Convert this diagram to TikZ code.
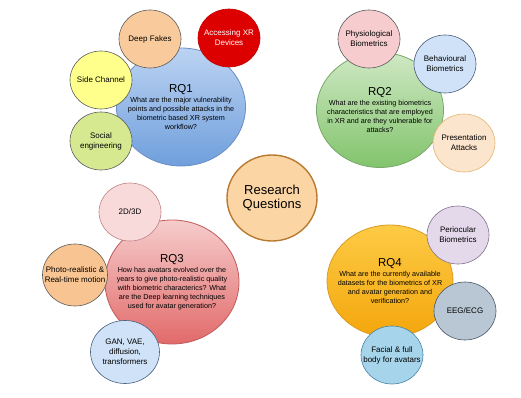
\documentclass[tikz,border=0pt]{standalone}
\usepackage{fontspec}
\setmainfont{Liberation Sans}
\usetikzlibrary{shapes.geometric}

\definecolor{rqoneTop}{HTML}{BCD3F2}
\definecolor{rqoneBot}{HTML}{6F9FDC}
\definecolor{rqoneLine}{HTML}{6A8FC4}
\definecolor{rqtwoTop}{HTML}{CFE8C4}
\definecolor{rqtwoBot}{HTML}{82C46C}
\definecolor{rqtwoLine}{HTML}{7AA86A}
\definecolor{rqthreeTop}{HTML}{F6CCCC}
\definecolor{rqthreeBot}{HTML}{E26A6A}
\definecolor{rqthreeLine}{HTML}{C05A5A}
\definecolor{rqfourTop}{HTML}{FDCB45}
\definecolor{rqfourBot}{HTML}{F4A60C}
\definecolor{rqfourLine}{HTML}{D99A20}
\definecolor{hubFill}{HTML}{FCD5A5}
\definecolor{hubLine}{HTML}{B87A30}

\tikzset{
  rqbig/.style={ellipse, inner sep=0pt, line width=0.8pt},
  rqtext/.style={font=\fontsize{7.2}{9}\selectfont, align=center, inner sep=0pt},
  tagcirc/.style={ellipse, draw=black!65, line width=0.6pt, inner sep=0pt,
    minimum width=62pt, minimum height=58pt},
  tagtext/.style={font=\fontsize{8}{10}\selectfont, align=center, inner sep=0pt},
}
\newcommand{\rqhead}[1]{{\fontsize{11.5}{13}\selectfont #1}\\[1pt]}

\begin{document}
\begin{tikzpicture}[x=1pt, y=-1pt]
    \useasboundingbox (0,0) rectangle (521,398);
    % Centre: research questions
    \node[ellipse, fill=hubFill, draw=hubLine, line width=1.4pt, inner sep=0pt,
      minimum width=90pt, minimum height=86pt] (hub) at (272,198) {};
    \node[font=\fontsize{13}{14}\selectfont, align=center] (hubtext) at (hub) {Research\\Questions};
    % Four research question circles
    \node[rqbig, top color=rqoneTop, bottom color=rqoneBot, draw=rqoneLine,
      minimum width=129pt, minimum height=118pt] (rq1) at (181,107) {};
    \node[rqtext] (rq1text) at (rq1) {\rqhead{RQ1}What are the major vulnerability\\points and possible attacks in the\\biometric based XR system\\workflow?};
    \node[rqbig, top color=rqtwoTop, bottom color=rqtwoBot, draw=rqtwoLine,
      minimum width=127pt, minimum height=115pt] (rq2) at (380,110) {};
    \node[rqtext] (rq2text) at (rq2) {\rqhead{RQ2}What are the existing biometrics\\characteristics that are employed\\in XR and are they vulnerable for\\attacks?};
    \node[rqbig, top color=rqthreeTop, bottom color=rqthreeBot, draw=rqthreeLine,
      minimum width=134pt, minimum height=124pt] (rq3) at (172,282) {};
    \node[rqtext] (rq3text) at (rq3) {\rqhead{RQ3}How has avatars evolved over the\\years to give photo-realistic quality\\with biometric characterics? What\\are the Deep learning techniques\\used for avatar generation?};
    \node[rqbig, top color=rqfourTop, bottom color=rqfourBot, draw=rqfourLine,
      minimum width=126pt, minimum height=112pt] (rq4) at (390,281) {};
    \node[rqtext] (rq4text) at (rq4) {\rqhead{RQ4}What are the currently available\\datasets for the biometrics of XR\\and avatar generation and\\verification?};
    % RQ1 topics
    \node[tagcirc, fill={rgb,255:red,249;green,203;blue,156}] (deepfakes) at (150,39) {};
    \node[tagtext] at (deepfakes) {Deep Fakes};
    \node[tagcirc, fill={rgb,255:red,221;green,0;blue,0}, draw={rgb,255:red,190;green,0;blue,0}] (xrdevices) at (229,38) {};
    \node[tagtext, text=white] at (xrdevices) {Accessing XR\\Devices};
    \node[tagcirc, fill={rgb,255:red,255;green,255;blue,140}] (sidechannel) at (101,80) {};
    \node[tagtext] at (sidechannel) {Side Channel};
    \node[tagcirc, fill={rgb,255:red,214;green,233;blue,145}] (socialeng) at (101,141) {};
    \node[tagtext] at (socialeng) {Social\\engineering};
    % RQ2 topics
    \node[tagcirc, fill={rgb,255:red,246;green,204;blue,206}] (physio) at (369,39) {};
    \node[tagtext] at (physio) {Physiological\\Biometrics};
    \node[tagcirc, fill={rgb,255:red,207;green,226;blue,247}, draw={rgb,255:red,70;green,90;blue,120}] (behav) at (445,64) {};
    \node[tagtext] at (behav) {Behavioural\\Biometrics};
    \node[tagcirc, fill={rgb,255:red,252;green,229;blue,205}, draw={rgb,255:red,225;green,180;blue,110}] (presatt) at (464,143) {};
    \node[tagtext] at (presatt) {Presentation\\Attacks};
    % RQ3 topics
    \node[tagcirc, fill={rgb,255:red,249;green,218;blue,218}, draw={rgb,255:red,190;green,130;blue,130}] (twothree) at (130,212) {};
    \node[tagtext] at (twothree) {2D/3D};
    \node[tagcirc, fill={rgb,255:red,248;green,196;blue,146}, minimum width=65pt, minimum height=62pt] (photoreal) at (75,275) {};
    \node[tagtext] at (photoreal) {Photo-realistic \&\\Real-time motion};
    \node[tagcirc, fill={rgb,255:red,207;green,226;blue,247}, draw={rgb,255:red,70;green,95;blue,125}, minimum width=69pt, minimum height=63pt] (genmodels) at (125,352) {};
    \node[tagtext] at (genmodels) {GAN, VAE,\\diffusion,\\transformers};
    % RQ4 topics
    \node[tagcirc, fill={rgb,255:red,228;green,217;blue,235}, draw={rgb,255:red,130;green,110;blue,140}] (periocular) at (458,235) {};
    \node[tagtext] at (periocular) {Periocular\\Biometrics};
    \node[tagcirc, fill={rgb,255:red,184;green,199;blue,211}, draw={rgb,255:red,70;green,85;blue,100}] (eegecg) at (465,311) {};
    \node[tagtext] at (eegecg) {EEG/ECG};
    \node[tagcirc, fill={rgb,255:red,166;green,212;blue,234}, draw={rgb,255:red,70;green,130;blue,165}] (facial) at (392,355) {};
    \node[tagtext] at (facial) {Facial \& full\\body for avatars};
\end{tikzpicture}
\end{document}
